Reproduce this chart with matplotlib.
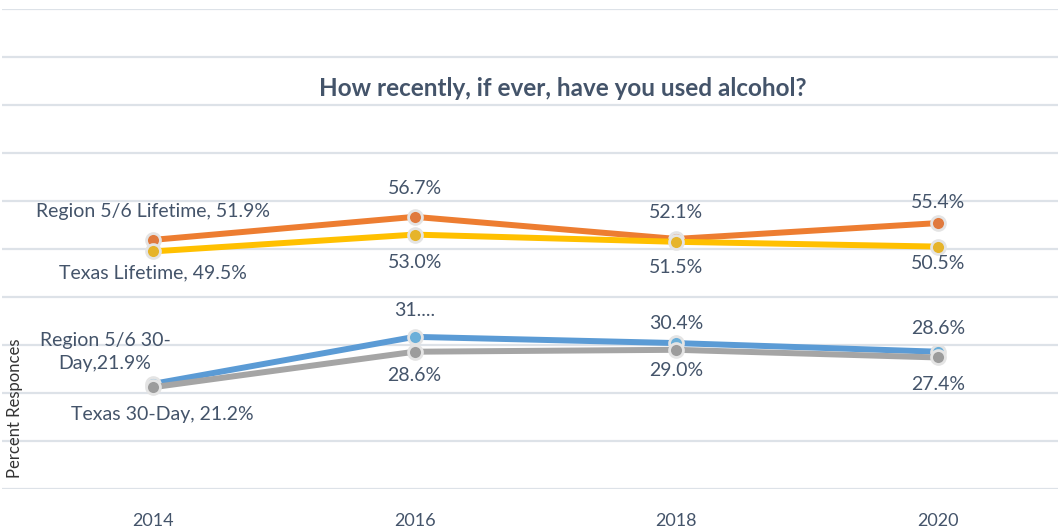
import matplotlib
matplotlib.use("Agg")
import matplotlib.pyplot as plt

years = ["2014", "2016", "2018", "2020"]
region_life = [51.9, 56.7, 52.1, 55.4]
texas_life = [49.5, 53.0, 51.5, 50.5]
region_30 = [21.9, 31.7, 30.4, 28.6]
texas_30 = [21.2, 28.6, 29.0, 27.4]

region_life_labels = ["Region 5/6 Lifetime, 51.9%", "56.7%", "52.1%", "55.4%"]
texas_life_labels = ["Texas Lifetime, 49.5%", "53.0%", "51.5%", "50.5%"]
region_30_labels = ["Region 5/6 30-\nDay,21.9%", "31....", "30.4%", "28.6%"]
texas_30_labels = ["Texas 30-Day, 21.2%", "28.6%", "29.0%", "27.4%"]

title = "How recently, if ever, have you used alcohol?"
ylabel = "Percent Responces"

txt = "#44546A"
plt.rcParams['font.family'] = ['Lato', 'DejaVu Sans']

fig = plt.figure(figsize=(10.58, 5.31), dpi=100)
ax = fig.add_axes([2/1058, (531-489)/531, 1 - 2/1058, (489-9)/531])
x = list(range(len(years)))

series = [
    (region_life, "#ED7D31", region_life_labels,
     [(0, 28), (0, 28), (0, 26), (0, 21)]),
    (texas_life, "#FFC000", texas_life_labels,
     [(0, -21), (0, -28), (0, -26), (0, -17)]),
    (region_30, "#5B9BD5", region_30_labels,
     [(-48, 32), (0, 26), (0, 20), (0, 23)]),
    (texas_30, "#A5A5A5", texas_30_labels,
     [(9, -27), (0, -24), (0, -21), (0, -27)]),
]
marker_colors = {"#ED7D31": "#E07A3E", "#FFC000": "#E6B42A",
                 "#5B9BD5": "#6BAFD9", "#A5A5A5": "#9C9C9C"}

for vals, col, labels, offs in series:
    ax.plot(x, vals, color=col, lw=4.3, solid_capstyle='round', zorder=3,
            marker='o', markersize=10, markerfacecolor=marker_colors[col],
            markeredgecolor="#E4E4E4", markeredgewidth=2)
    for xi, v, lab, off in zip(x, vals, labels, offs):
        ax.annotate(lab, (xi, v), xytext=off, textcoords='offset pixels',
                    ha='center', va='center', color=txt, fontsize=14,
                    linespacing=1.4, zorder=5)

ax.set_ylim(0, 100)
ax.set_xlim(-0.577, 3.459)
ax.set_yticks(range(0, 101, 10))
ax.yaxis.grid(True, color="#DDE2E8", lw=1.6)
ax.set_axisbelow(True)
ax.tick_params(axis='y', left=False, labelleft=False)
ax.set_xticks(x)
ax.set_xticklabels(years, color=txt, fontsize=13)
ax.tick_params(axis='x', length=0, pad=17)
for s in ax.spines.values():
    s.set_visible(False)

fig.text(563/1058, 1 - 88/531, title, ha='center', va='center',
         fontsize=17.5, fontweight='bold', color=txt)
fig.text(15/1058, 1 - 408/531, ylabel, rotation=90, ha='center',
         va='center', fontsize=12, color="#333333")

fig.savefig("out.png", dpi=100)
